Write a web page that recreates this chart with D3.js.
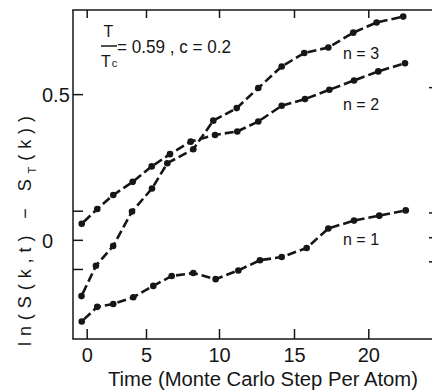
<!DOCTYPE html>
<html>
<head>
<meta charset="utf-8">
<script src="https://cdn.jsdelivr.net/npm/d3@7"></script>
<style>
  html, body { margin: 0; padding: 0; background: #fff; }
  svg { display: block; font-family: "Liberation Sans", Arial, sans-serif; }
</style>
</head>
<body>
<svg id="chart" width="432" height="392"></svg>
<script>
// ---- data ----
const seriesNames = ["n = 1", "n = 2", "n = 3"];
const timeN1  = [-0.42, 0.89, 2.24, 3.93, 5.50, 6.76, 8.24, 9.77, 11.29, 12.73, 14.18, 15.85, 17.31, 19.04, 20.74, 22.52];
const valueN1 = [-0.280, -0.230, -0.220, -0.197, -0.158, -0.124, -0.114, -0.135, -0.105, -0.070, -0.059, -0.028, 0.039, 0.066, 0.083, 0.101];
const timeN2  = [-0.42, 0.89, 2.24, 3.88, 5.39, 6.64, 8.06, 9.73, 11.22, 12.62, 14.18, 15.74, 17.38, 19.04, 20.67, 22.47];
const valueN2 = [0.055, 0.106, 0.154, 0.199, 0.252, 0.294, 0.337, 0.360, 0.372, 0.406, 0.460, 0.483, 0.515, 0.547, 0.578, 0.606];
const timeN3  = [-0.44, 0.78, 2.23, 3.82, 5.41, 6.46, 8.24, 9.61, 11.18, 12.62, 14.18, 15.69, 17.31, 18.99, 20.56, 22.35];
const valueN3 = [-0.193, -0.089, -0.021, 0.097, 0.176, 0.263, 0.311, 0.409, 0.452, 0.521, 0.595, 0.641, 0.660, 0.711, 0.746, 0.766];
const xTickValues = [0, 5, 10, 15, 20];
const yTickValues = [-0.1, 0, 0.1, 0.5];
const yTickLabels = { "0": "0", "0.5": "0.5" };
const rightEdgeTicks = [-0.074, 0.009, 0.094, 0.524];
const xAxisTitle = "Time (Monte Carlo Step Per Atom)";
const annotationText = "= 0.59 ,  c = 0.2";

// ---- layout ----
const svg = d3.select("#chart");
const plot = { left: 73, right: 432, top: 10, bottom: 339 };
const ink = "#161616";

// The original's time axis is slightly non-uniform; a polylinear scale reproduces its tick spacing.
const x = d3.scaleLinear()
  .domain([0, 5, 10, 15, 20])
  .range([86.7, 146, 219, 294, 368.3]);
const y = d3.scaleLinear()
  .domain([-0.3403, 0.7887])
  .range([plot.bottom, plot.top]);

// ---- frame ----
const frame = svg.append("g").attr("stroke", ink).attr("stroke-width", 1.5).attr("fill", "none");
frame.append("line").attr("x1", plot.left).attr("x2", plot.left).attr("y1", plot.top).attr("y2", plot.bottom);
frame.append("line").attr("x1", plot.left - 0.75).attr("x2", plot.right).attr("y1", plot.top).attr("y2", plot.top);
frame.append("line").attr("x1", plot.left - 0.75).attr("x2", plot.right).attr("y1", plot.bottom).attr("y2", plot.bottom);

// ---- axes ----
const gBottom = svg.append("g").attr("transform", `translate(0,${plot.bottom})`)
  .call(d3.axisBottom(x).tickValues(xTickValues).tickSize(-10).tickPadding(9).tickFormat(d3.format("d")));
const gTop = svg.append("g").attr("transform", `translate(0,${plot.top})`)
  .call(d3.axisTop(x).tickValues(xTickValues).tickSize(-8).tickFormat(""));
const gLeft = svg.append("g").attr("transform", `translate(${plot.left},0)`)
  .call(d3.axisLeft(y).tickValues(yTickValues).tickSize(-10)
        .tickFormat(v => yTickLabels[String(v)] || ""));
const gRight = svg.append("g").attr("transform", `translate(${plot.right},0)`)
  .call(d3.axisRight(y).tickValues(rightEdgeTicks).tickSize(-3).tickFormat(""));

[gBottom, gTop, gLeft, gRight].forEach(g => {
  g.select(".domain").remove();
  g.selectAll(".tick line").attr("stroke", ink).attr("stroke-width", 1.5);
  g.selectAll("text").attr("fill", ink).attr("font-family", "Liberation Sans, Arial, sans-serif");
});
gBottom.selectAll("text").attr("font-size", 20);
gLeft.selectAll("text").attr("font-size", 20).attr("text-anchor", "start").attr("x", -31).attr("dy", "0.36em");

// ---- axis titles ----
svg.append("text")
  .attr("x", 263).attr("y", 386)
  .attr("text-anchor", "middle")
  .attr("font-size", 20).attr("fill", ink)
  .attr("textLength", 310).attr("lengthAdjust", "spacingAndGlyphs")
  .text(xAxisTitle);

const yTitle = svg.append("text")
  .attr("transform", "translate(31,231) rotate(-90)")
  .attr("text-anchor", "middle")
  .attr("font-size", 18).attr("fill", ink)
  .attr("textLength", 230).attr("lengthAdjust", "spacing");
yTitle.append("tspan").text("ln(S(k,t) \u2212 S");
yTitle.append("tspan").attr("font-size", 11).attr("dy", 5).text("T");
yTitle.append("tspan").attr("dy", -5).text("(k))");

// ---- series ----
const series = [
  { name: seriesNames[0], t: timeN1, v: valueN1 },
  { name: seriesNames[1], t: timeN2, v: valueN2 },
  { name: seriesNames[2], t: timeN3, v: valueN3 }
];
const line = d3.line().x(d => x(d[0])).y(d => y(d[1]));
series.forEach(s => {
  const pts = s.t.map((t, i) => [t, s.v[i]]);
  svg.append("path")
    .datum(pts)
    .attr("d", line)
    .attr("fill", "none")
    .attr("stroke", ink)
    .attr("stroke-width", 2.6)
    .attr("stroke-dasharray", "9,4")
    .attr("stroke-dashoffset", -3);
  svg.append("g").selectAll("circle")
    .data(pts).join("circle")
    .attr("cx", d => x(d[0]))
    .attr("cy", d => y(d[1]))
    .attr("r", 3.3)
    .attr("fill", ink);
});

// ---- series labels ----
const labelPos = [
  { t: 18.3, v: -0.017 },
  { t: 18.3, v: 0.446 },
  { t: 18.3, v: 0.621 }
];
series.forEach((s, i) => {
  svg.append("text")
    .attr("x", x(labelPos[i].t)).attr("y", y(labelPos[i].v))
    .attr("font-size", 17).attr("fill", ink)
    .attr("textLength", 36).attr("lengthAdjust", "spacingAndGlyphs")
    .text(s.name);
});

// ---- annotation T/Tc = 0.59 , c = 0.2 ----
const ann = svg.append("g").attr("fill", ink);
ann.append("text").attr("x", 108.5).attr("y", 37).attr("text-anchor", "middle")
  .attr("font-size", 16).text("T");
ann.append("line").attr("x1", 101).attr("x2", 117).attr("y1", 46).attr("y2", 46)
  .attr("stroke", ink).attr("stroke-width", 1.5);
const den = ann.append("text").attr("x", 101).attr("y", 67).attr("font-size", 16);
den.append("tspan").text("T");
den.append("tspan").attr("font-size", 11).attr("dx", 1).text("c");
ann.append("text").attr("x", 117).attr("y", 53).attr("font-size", 19)
  .attr("textLength", 114).attr("lengthAdjust", "spacingAndGlyphs")
  .text(annotationText);
</script>
</body>
</html>
